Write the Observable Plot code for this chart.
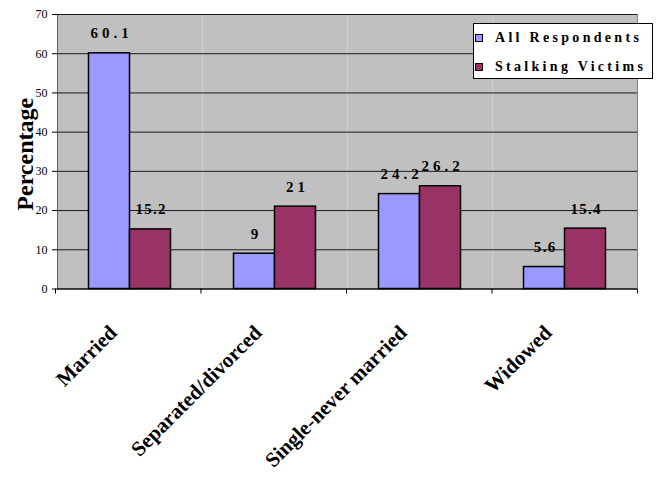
<!DOCTYPE html>
<html><head><meta charset="utf-8">
<script src="https://cdn.jsdelivr.net/npm/d3@7"></script>
<script src="https://cdn.jsdelivr.net/npm/@observablehq/plot@0.6"></script>
<style>
body{margin:0;background:#fff;}
#wrap{position:relative;width:657px;height:488px;font-family:"Liberation Serif","Times New Roman",serif;}
#legend{position:absolute;left:473px;top:23px;width:180px;height:56px;box-sizing:border-box;border:1px solid #000;background:#fff;}
.row{position:absolute;left:0;height:20px;display:flex;align-items:center;font-weight:bold;font-size:14px;letter-spacing:3.3px;white-space:nowrap;color:#000;}
.sw{width:8px;height:8px;box-sizing:border-box;border:1px solid #000;margin-left:1px;margin-right:12px;flex:none;}
</style></head>
<body><div id="wrap"></div>
<script>
const categories = ["Married", "Separated/divorced", "Single-never married", "Widowed"];
const seriesNames = ["All Respondents", "Stalking Victims"];
const allRespondents = [60.1, 9, 24.2, 5.6];
const stalkingVictims = [15.2, 21, 26.2, 15.4];
const yTicks = [0, 10, 20, 30, 40, 50, 60, 70];
const seriesColors = ["#9999FF", "#993366"];
const yTitle = "Percentage";
const spacedLabels = new Set(["60.1", "21", "24.2", "26.2"]);

const rows = categories.flatMap((c, i) => [
  {category: c, series: seriesNames[0], value: allRespondents[i]},
  {category: c, series: seriesNames[1], value: stalkingVictims[i]}
]);

const font = '"Liberation Serif","Times New Roman",serif';

const chart = Plot.plot({
  width: 657, height: 488,
  marginLeft: 55.5, marginRight: 19.5, marginTop: 14, marginBottom: 199.5,
  style: {fontFamily: font, fontSize: "12px", color: "#000", background: "transparent", overflow: "visible"},
  facet: {data: rows, x: "category"},
  fx: {domain: categories, padding: 0, axis: null},
  x: {domain: seriesNames, paddingInner: 0, paddingOuter: 0.732, axis: null},
  y: {domain: [0, 70], ticks: yTicks, tickSize: 5, tickPadding: 5, line: true, label: null, tickFormat: d => String(d)},
  color: {domain: seriesNames, range: seriesColors},
  marks: [
    Plot.frame({fill: "#C0C0C0", stroke: "none"}),
    Plot.ruleY(yTicks, {stroke: "#1a1a1a", strokeWidth: 1}),
    Plot.barY(rows, {x: "series", y: "value", fill: "series", stroke: "#000", strokeWidth: 1.5}),
    Plot.ruleY([0], {stroke: "#000"}),
    Plot.text(rows, {x: "series", y: "value", text: d => String(d.value), lineAnchor: "bottom", dy: -15, fontWeight: "bold", fontSize: 15}),
    Plot.text(rows, {filter: d => d.series === seriesNames[0], frameAnchor: "bottom", text: "category", rotate: -45, textAnchor: "end", lineAnchor: "bottom", dx: -12, dy: 45, fontSize: 21, fontWeight: "bold"})
  ]
});

const wrap = document.getElementById("wrap");
wrap.appendChild(chart);

// remove Plot's warning indicator, if any
d3.select(chart).selectAll("text").filter(function () { return this.textContent.includes("\u26A0"); }).remove();

// post-render: category boundary ticks, plot-area border, y title, label spacing
const svg = d3.select(chart);
const fxs = chart.scale("fx");
const band = d3.scaleBand(fxs.domain, fxs.range)
  .paddingInner(fxs.paddingInner ?? 0).paddingOuter(fxs.paddingOuter ?? 0).align(fxs.align ?? 0.5);
const ys = chart.scale("y");
const yl = d3.scaleLinear(ys.domain, ys.range);
const edges = [...categories.map(c => band(c)), band(categories[categories.length - 1]) + band.bandwidth()];
const g = svg.append("g");
g.selectAll("line.edge").data(edges).join("line")
  .attr("x1", d => d).attr("x2", d => d)
  .attr("y1", yl(0)).attr("y2", yl(0) + 5)
  .attr("stroke", "#000");
g.append("line")
  .attr("x1", edges[edges.length - 1]).attr("x2", edges[edges.length - 1])
  .attr("y1", yl(70)).attr("y2", yl(0))
  .attr("stroke", "#808080");
g.append("text")
  .attr("transform", `translate(33,${(yl(0) + yl(70)) / 2 + 3}) rotate(-90)`)
  .attr("text-anchor", "middle")
  .attr("font-size", 24).attr("font-weight", "bold")
  .attr("fill", "#000")
  .text(yTitle);

svg.selectAll("text").each(function () {
  const t = this.textContent;
  if (rows.some(r => String(r.value) === t)) {
    const ls = spacedLabels.has(t) ? 4 : 1.3;
    this.setAttribute("letter-spacing", ls);
    this.setAttribute("dx", ls / 2);
  }
});

// legend
const legend = document.createElement("div");
legend.id = "legend";
seriesNames.forEach((name, i) => {
  const row = document.createElement("div");
  row.className = "row";
  row.style.top = (4.3 + i * 28.4) + "px";
  const sw = document.createElement("span");
  sw.className = "sw";
  sw.style.background = seriesColors[i];
  const tx = document.createElement("span");
  tx.textContent = name;
  row.appendChild(sw);
  row.appendChild(tx);
  legend.appendChild(row);
});
wrap.appendChild(legend);
</script>
</body></html>
